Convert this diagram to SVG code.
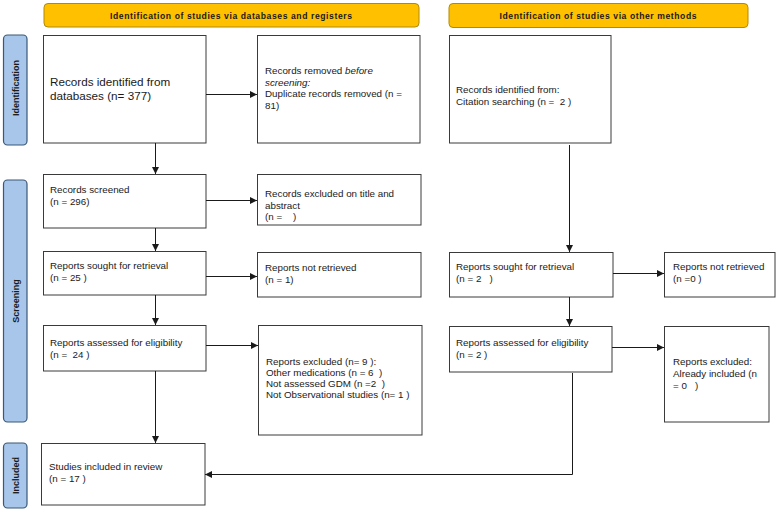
<svg xmlns="http://www.w3.org/2000/svg" width="779" height="512" viewBox="0 0 779 512">
  <style>
    text { font-family: "Liberation Sans", Arial, sans-serif; fill: #1a1a1a; }
    .box { fill: #ffffff; stroke: #3a3a3a; stroke-width: 1; }
    .hdr { fill: #ffc000; stroke: #b38a00; stroke-width: 1; }
    .side { fill: #a7c6ea; stroke: #3b5876; stroke-width: 1.2; }
    .hdr-t { font-size: 8.6px; font-weight: bold; text-anchor: middle; }
    .side-t { font-size: 9px; font-weight: bold; text-anchor: middle; }
    .t { font-size: 9.8px; }
    .big { font-size: 11.7px; }
    .conn { fill: none; stroke: #1a1a1a; stroke-width: 1; }
  </style>
  <defs>
    <marker id="arrow" viewBox="0 0 10 10" refX="10" refY="5" markerWidth="7" markerHeight="7" markerUnits="userSpaceOnUse" orient="auto">
      <path d="M0,0 L10,5 L0,10 z" fill="#1a1a1a"/>
    </marker>
  </defs>

  <!-- column headers -->
  <g id="hdr-databases">
    <rect class="hdr" x="44" y="3.5" width="375" height="23.5" rx="4"/>
    <text class="hdr-t" x="231" y="18.5" textLength="242">Identification of studies via databases and registers</text>
  </g>
  <g id="hdr-other">
    <rect class="hdr" x="449" y="3.5" width="299" height="24" rx="4"/>
    <text class="hdr-t" x="598" y="19" textLength="197">Identification of studies via other methods</text>
  </g>

  <!-- phase labels -->
  <g id="phase-identification">
    <rect class="side" x="3.5" y="35" width="23.5" height="110" rx="4"/>
    <text class="side-t" transform="translate(18.5,88) rotate(-90)">Identification</text>
  </g>
  <g id="phase-screening">
    <rect class="side" x="3.5" y="180" width="23.5" height="242" rx="4"/>
    <text class="side-t" transform="translate(18.5,301) rotate(-90)">Screening</text>
  </g>
  <g id="phase-included">
    <rect class="side" x="3.5" y="443" width="23.5" height="65" rx="4"/>
    <text class="side-t" transform="translate(18.5,475.5) rotate(-90)">Included</text>
  </g>

  <!-- databases column -->
  <g id="records-identified">
    <rect class="box" x="43.5" y="35.5" width="162.5" height="107.5"/>
    <text class="big" x="50" y="86">Records identified from</text>
    <text class="big" x="50" y="99.5">databases (n= 377)</text>
  </g>
  <g id="records-removed">
    <rect class="box" x="257.5" y="35.5" width="162.5" height="107.5"/>
    <text class="t" x="265" y="74">Records removed <tspan font-style="italic">before</tspan></text>
    <text class="t" x="265" y="85.5" font-style="italic">screening:</text>
    <text class="t" x="265" y="97">Duplicate records removed  (n =</text>
    <text class="t" x="265" y="108.5">81)</text>
  </g>
  <g id="records-screened">
    <rect class="box" x="43.5" y="174.5" width="162.5" height="53.5"/>
    <text class="t" x="50" y="193">Records screened</text>
    <text class="t" x="50" y="205">(n = 296)</text>
  </g>
  <g id="records-excluded">
    <rect class="box" x="257.5" y="174.5" width="163.5" height="50.5"/>
    <text class="t" x="265" y="197">Records excluded on title and</text>
    <text class="t" x="265" y="208.5">abstract</text>
    <text class="t" x="265" y="220" xml:space="preserve">(n =    )</text>
  </g>
  <g id="reports-sought">
    <rect class="box" x="43.5" y="251.5" width="162.5" height="43.5"/>
    <text class="t" x="50" y="269">Reports sought for retrieval</text>
    <text class="t" x="50" y="281">(n = 25 )</text>
  </g>
  <g id="reports-not-retrieved">
    <rect class="box" x="257.5" y="252.5" width="163.5" height="44.5"/>
    <text class="t" x="265" y="271">Reports not retrieved</text>
    <text class="t" x="265" y="283">(n = 1)</text>
  </g>
  <g id="reports-assessed">
    <rect class="box" x="43.5" y="325.5" width="162.5" height="45.5"/>
    <text class="t" x="50" y="346">Reports assessed for eligibility</text>
    <text class="t" x="50" y="358" xml:space="preserve">(n =  24 )</text>
  </g>
  <g id="reports-excluded">
    <rect class="box" x="258.5" y="325.5" width="163.5" height="109.5"/>
    <text class="t" x="266" y="365">Reports excluded (n= 9 ):</text>
    <text class="t" x="266" y="376" xml:space="preserve">Other medications (n = 6  )</text>
    <text class="t" x="266" y="387" xml:space="preserve">Not assessed GDM (n =2  )</text>
    <text class="t" x="266" y="398">Not Observational studies (n= 1 )</text>
  </g>
  <g id="studies-included">
    <rect class="box" x="41.5" y="443.5" width="163.5" height="61.5"/>
    <text class="t" x="49" y="470">Studies included in review</text>
    <text class="t" x="49" y="482">(n = 17 )</text>
  </g>

  <!-- other methods column -->
  <g id="citation-records">
    <rect class="box" x="449.5" y="35.5" width="161.5" height="107.5"/>
    <text class="t" x="456" y="93">Records identified from:</text>
    <text class="t" x="456" y="104.5" xml:space="preserve">Citation searching (n =  2 )</text>
  </g>
  <g id="other-reports-sought">
    <rect class="box" x="449.5" y="252.5" width="163.5" height="44.5"/>
    <text class="t" x="456" y="270">Reports sought for retrieval</text>
    <text class="t" x="456" y="282" xml:space="preserve">(n = 2   )</text>
  </g>
  <g id="other-not-retrieved">
    <rect class="box" x="664.5" y="252.5" width="110.5" height="44.5"/>
    <text class="t" x="673" y="270">Reports not retrieved</text>
    <text class="t" x="673" y="282">(n =0 )</text>
  </g>
  <g id="other-reports-assessed">
    <rect class="box" x="449.5" y="326.5" width="162.5" height="45.5"/>
    <text class="t" x="456" y="346">Reports assessed for eligibility</text>
    <text class="t" x="456" y="358">(n = 2 )</text>
  </g>
  <g id="other-reports-excluded">
    <rect class="box" x="664.5" y="326.5" width="104.5" height="95.5"/>
    <text class="t" x="673" y="365">Reports excluded:</text>
    <text class="t" x="673" y="377">Already included (n</text>
    <text class="t" x="673" y="389" xml:space="preserve">= 0   )</text>
  </g>

  <!-- connectors -->
  <g id="connectors">
    <line class="conn" x1="155.5" y1="143" x2="155.5" y2="174" marker-end="url(#arrow)"/>
    <line class="conn" x1="206" y1="94.5" x2="257" y2="94.5" marker-end="url(#arrow)"/>
    <line class="conn" x1="206" y1="200.5" x2="257" y2="200.5" marker-end="url(#arrow)"/>
    <line class="conn" x1="155.5" y1="228" x2="155.5" y2="251" marker-end="url(#arrow)"/>
    <line class="conn" x1="206" y1="276.5" x2="257" y2="276.5" marker-end="url(#arrow)"/>
    <line class="conn" x1="155.5" y1="295" x2="155.5" y2="325" marker-end="url(#arrow)"/>
    <line class="conn" x1="206" y1="345.5" x2="258" y2="345.5" marker-end="url(#arrow)"/>
    <line class="conn" x1="155.5" y1="371" x2="155.5" y2="443" marker-end="url(#arrow)"/>
    <line class="conn" x1="569.5" y1="145" x2="569.5" y2="252" marker-end="url(#arrow)"/>
    <line class="conn" x1="613" y1="273.5" x2="664" y2="273.5" marker-end="url(#arrow)"/>
    <line class="conn" x1="569.5" y1="297" x2="569.5" y2="326" marker-end="url(#arrow)"/>
    <line class="conn" x1="612" y1="347.5" x2="664" y2="347.5" marker-end="url(#arrow)"/>
    <polyline class="conn" points="572.5,373 572.5,474.5 205,474.5" marker-end="url(#arrow)"/>
  </g>
</svg>
